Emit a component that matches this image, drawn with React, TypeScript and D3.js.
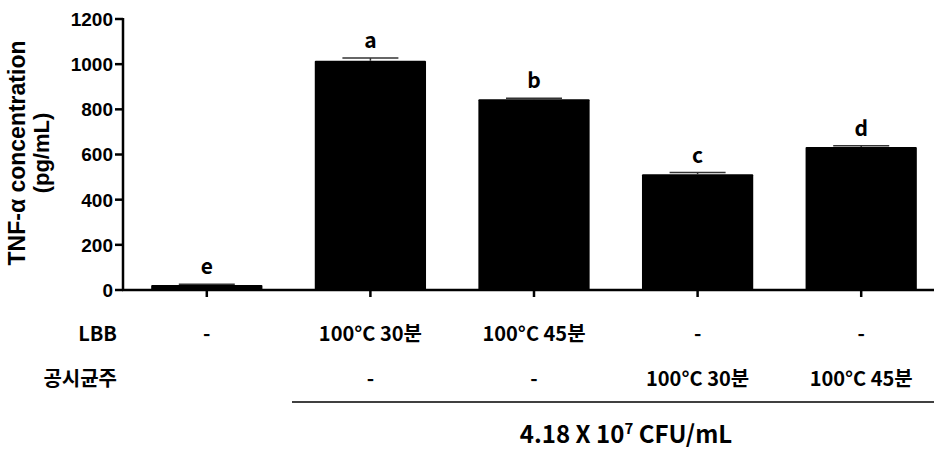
import React from "react";
import * as d3 from "d3";

const groups = ["g1", "g2", "g3", "g4", "g5"];
const values = [22, 1015, 845, 512, 633];
const errors = [3, 12, 4, 8, 6];
const letters = ["e", "a", "b", "c", "d"];
const lbbRow = ["-", "100°C 30분", "100°C 45분", "-", "-"];
const strainRow = ["", "-", "-", "100°C 30분", "100°C 45분"];
const yTicks = [0, 200, 400, 600, 800, 1000, 1200];

const W = 934;
const H = 450;

export default function App() {
  const x = d3.scaleBand<string>().domain(groups).range([125, 943]).paddingInner(0.32).paddingOuter(0.16);
  const y = d3.scaleLinear().domain([0, 1200]).range([290, 19]);
  const korean = "'Noto Sans CJK KR', 'Noto Sans', sans-serif";
  const arial = "'Liberation Sans', Arial, sans-serif";
  return (
    <svg width={W} height={H} style={{ position: "absolute", left: 0, top: 0, background: "#fff" }}>
      <g>
        {/* y axis title */}
        <text transform="translate(25,153) rotate(-90)" textAnchor="middle" fontFamily={arial} fontWeight="bold" fontSize={23}>TNF-α concentration</text>
        <text transform="translate(49,153) rotate(-90)" textAnchor="middle" fontFamily={arial} fontWeight="bold" fontSize={22}>(pg/mL)</text>
        {/* bars */}
        {groups.map((g, i) => (
          <rect key={g} x={x(g)} y={y(values[i])} width={x.bandwidth()} height={y(0) - y(values[i])} fill="#000" rx={1} />
        ))}
        {/* error bars */}
        {groups.map((g, i) => {
          const cx = (x(g) as number) + x.bandwidth() / 2;
          const top = y(values[i] + errors[i]);
          return (
            <g key={"e" + g} stroke="#333" strokeWidth={1.5}>
              <line x1={cx} x2={cx} y1={y(values[i])} y2={top} />
              <line x1={cx - 28} x2={cx + 28} y1={top} y2={top} />
            </g>
          );
        })}
        {/* letters */}
        {groups.map((g, i) => (
          <text key={"l" + g} x={(x(g) as number) + x.bandwidth() / 2} y={y(values[i] + errors[i]) - 10} textAnchor="middle" fontFamily={korean} fontWeight="bold" fontSize={21}>{letters[i]}</text>
        ))}
        {/* y axis */}
        <line x1={123} x2={123} y1={y(1200) - 1} y2={y(0) + 1} stroke="#000" strokeWidth={2.5} />
        {yTicks.map((t) => (
          <g key={t}>
            <line x1={115} x2={123} y1={y(t)} y2={y(t)} stroke="#000" strokeWidth={2.5} />
            <text x={113} y={y(t)} dy="0.36em" textAnchor="end" fontFamily={arial} fontWeight="bold" fontSize={19}>{t}</text>
          </g>
        ))}
        {/* x axis */}
        <line x1={122} x2={934} y1={y(0)} y2={y(0)} stroke="#000" strokeWidth={2.5} />
        {groups.map((g) => {
          const cx = (x(g) as number) + x.bandwidth() / 2;
          return <line key={"t" + g} x1={cx} x2={cx} y1={y(0)} y2={y(0) + 7} stroke="#000" strokeWidth={2.5} />;
        })}
        {/* row labels */}
        <text x={117} y={334} dy="0.36em" textAnchor="end" fontFamily={korean} fontWeight="bold" fontSize={20}>LBB</text>
        <text x={117} y={379} dy="0.36em" textAnchor="end" fontFamily={korean} fontWeight="bold" fontSize={20}>공시균주</text>
        {groups.map((g, i) => {
          const cx = (x(g) as number) + x.bandwidth() / 2;
          return (
            <g key={"r" + g}>
              <text x={cx} y={334} dy="0.36em" textAnchor="middle" fontFamily={korean} fontWeight="bold" fontSize={20}>{lbbRow[i]}</text>
              <text x={cx} y={379} dy="0.36em" textAnchor="middle" fontFamily={korean} fontWeight="bold" fontSize={20}>{strainRow[i]}</text>
            </g>
          );
        })}
        <line x1={292} x2={934} y1={402} y2={402} stroke="#000" strokeWidth={1.5} />
        <text x={626} y={443} textAnchor="middle" fontFamily={korean} fontWeight="bold" fontSize={24}>
          4.18 X 10<tspan dy={-9} fontSize={15}>7</tspan><tspan dy={9}> CFU/mL</tspan>
        </text>
      </g>
    </svg>
  );
}
